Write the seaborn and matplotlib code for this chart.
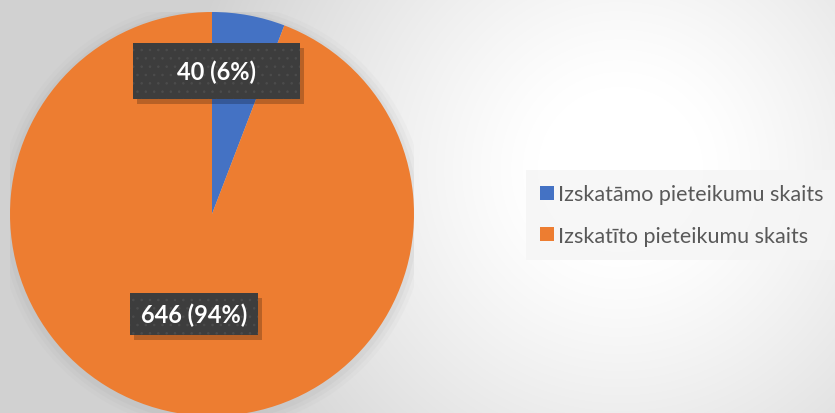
import numpy as np
import seaborn as sns
import matplotlib.pyplot as plt
from matplotlib.patches import Rectangle, Patch, Circle

# data
categories = ["Izskatāmo pieteikumu skaits", "Izskatīto pieteikumu skaits"]
values = [40, 646]
colors = ["#4472C4", "#ED7D31"]

sns.set_style("white")
plt.rcParams['font.family'] = ['Lato', 'DejaVu Sans']
plt.rcParams['hatch.linewidth'] = 0.6

W, H = 835, 414
fig = plt.figure(figsize=(W / 100, H / 100), dpi=100)

# background: soft radial gradient
bg = fig.add_axes([0, 0, 1, 1])
yy, xx = np.mgrid[0:H, 0:W]
d = np.sqrt(((xx - 620) / 330.0) ** 2 + ((yy - 170) / 330.0) ** 2)
shade = np.clip(1.0 - 0.16 * np.clip(d - 0.25, 0, None) ** 1.2, 0.82, 1.0)
bg.imshow(np.dstack([shade] * 3), extent=[0, W, 0, H], origin="upper", aspect="auto")
bg.set_axis_off()

# pie geometry in pixels
cx, cy, r = 212, 215, 202
ax = fig.add_axes([(cx - r) / W, (H - cy - r) / H, 2 * r / W, 2 * r / H])
ax.set_axis_off()

# soft shadow behind pie
for k, a in zip([1.06, 1.04, 1.02], [0.05, 0.07, 0.09]):
    ax.add_patch(Circle((0.0, -0.01), k, color="#9a9a9a", alpha=a, lw=0, zorder=0))

ax.pie(values, colors=colors, startangle=90, counterclock=False, radius=1,
       wedgeprops=dict(linewidth=0))
ax.set_xlim(-1, 1)
ax.set_ylim(-1, 1)
ax.set_aspect("auto")

total = sum(values)
labels = [f"{v} ({v / total:.0%})" for v in values]


def px(x, y):
    return (x - cx) / r, (cy - y) / r


# label boxes (left, top, right, bottom) in pixels
boxes = [(133, 44, 300, 100), (130, 294, 258, 336)]
for (x0, y0, x1, y1), lab in zip(boxes, labels):
    bx, by = px(x0, y1)
    w, h = (x1 - x0) / r, (y1 - y0) / r
    ax.add_patch(Rectangle((bx + 0.02, by - 0.025), w, h, color="black", alpha=0.22, lw=0, zorder=4))
    ax.add_patch(Rectangle((bx, by), w, h, facecolor="#3d3d3d", edgecolor="#4c4c4c",
                           hatch="..", lw=0, zorder=5))
    tx, ty = px((x0 + x1) / 2, (y0 + y1) / 2)
    ax.text(tx, ty, lab, color="white", fontsize=17, fontweight="bold",
            ha="center", va="center", zorder=6)

handles = [Patch(facecolor=c, edgecolor="none") for c in colors]
leg = fig.legend(handles, categories, loc="center left", bbox_to_anchor=(526 / W, 0.478),
                 frameon=True, fontsize=15.5, handlelength=0.65, handleheight=0.65,
                 handletextpad=0.2, labelspacing=1.0, borderpad=0.65, borderaxespad=0,
                 labelcolor="#595959")
leg.get_frame().set_facecolor("#f5f5f5")
leg.get_frame().set_edgecolor("none")
leg.get_frame().set_boxstyle("square", pad=0)

fig.savefig("out.png", dpi=100)
